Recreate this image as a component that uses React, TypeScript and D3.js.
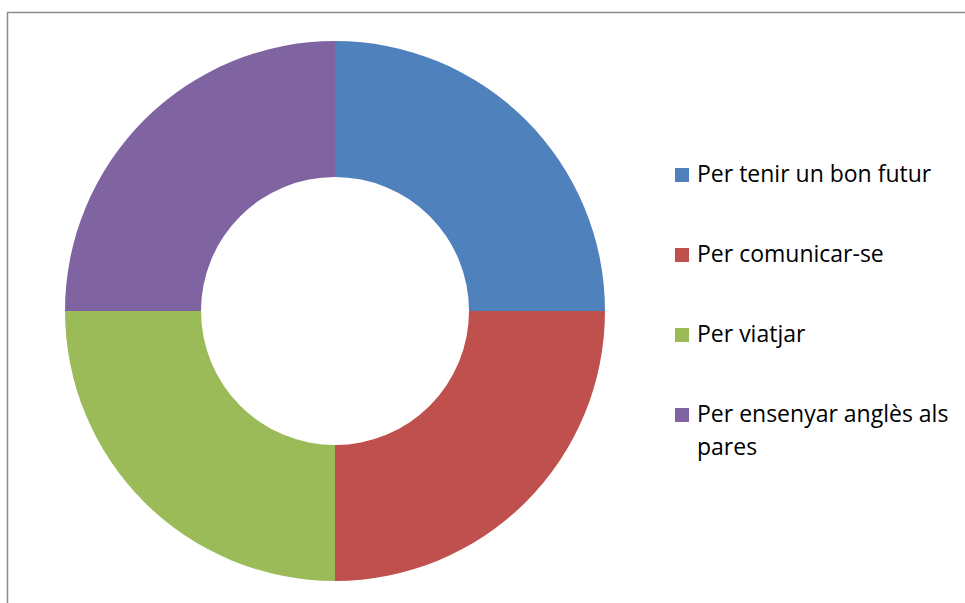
import React, { useRef, useEffect } from 'react';
import * as d3 from 'd3';

const categories = ['Per tenir un bon futur', 'Per comunicar-se', 'Per viatjar', 'Per ensenyar anglès als pares'];
const values = [25, 25, 25, 25];
const colors = ['#4F81BD', '#C0504D', '#9BBB59', '#8064A2'];
// legend labels split into lines the way they wrap
const legendLines = [['Per tenir un bon futur'], ['Per comunicar-se'], ['Per viatjar'], ['Per ensenyar anglès als', 'pares']];

const W = 965;
const H = 603;

export default function App() {
  const ref = useRef<SVGSVGElement>(null);

  useEffect(() => {
    if (!ref.current) return;
    const svg = d3.select(ref.current);
    svg.selectAll('*').remove();

    // chart frame
    svg.append('rect')
      .attr('x', 7.5).attr('y', 12.5)
      .attr('width', 1000).attr('height', 1000)
      .attr('fill', '#fff')
      .attr('stroke', '#8c8c8c')
      .attr('stroke-width', 1.5);

    const cx = 335, cy = 311, outer = 270, inner = 134;
    const color = d3.scaleOrdinal<string, string>().domain(categories).range(colors);

    const pie = d3.pie<number>().sort(null).value((d) => d);
    const arc = d3.arc<d3.PieArcDatum<number>>().innerRadius(inner).outerRadius(outer);

    const g = svg.append('g').attr('transform', `translate(${cx}, ${cy})`);
    g.selectAll('path.slice')
      .data(pie(values))
      .enter()
      .append('path')
      .attr('class', 'slice')
      .attr('d', arc)
      .attr('fill', (_d, i) => color(categories[i]));

    // legend
    const legend = svg.append('g').attr('transform', 'translate(675, 168)');
    const items = legend.selectAll('g.item')
      .data(categories)
      .enter()
      .append('g')
      .attr('class', 'item')
      .attr('transform', (_d, i) => `translate(0, ${i * 80})`);

    items.append('rect')
      .attr('width', 14).attr('height', 14)
      .attr('fill', (d) => color(d));

    items.append('text')
      .attr('x', 22)
      .attr('y', 14)
      .attr('font-family', '"Open Sans", sans-serif')
      .attr('font-size', 23)
      .attr('fill', '#000')
      .selectAll('tspan')
      .data((_d, i) => legendLines[i])
      .enter()
      .append('tspan')
      .attr('x', 22)
      .attr('dy', (_d, j) => (j === 0 ? 0 : 33))
      .text((d) => d);
  }, []);

  return (
    <svg
      ref={ref}
      width={W}
      height={H}
      style={{ position: 'fixed', left: 0, top: 0, display: 'block', background: '#fff' }}
    />
  );
}
